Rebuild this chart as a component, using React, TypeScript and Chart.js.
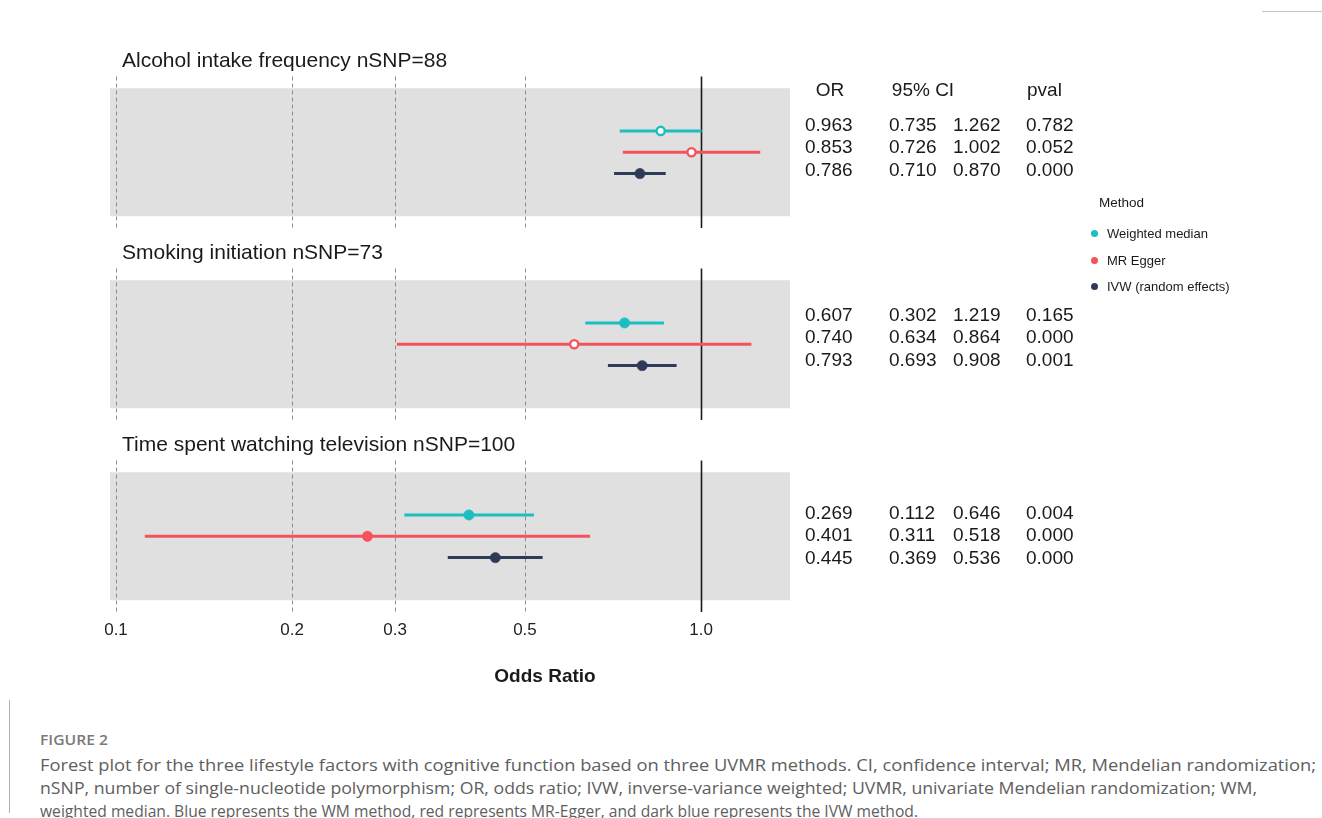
import React, { useEffect, useRef } from "react";
import { Chart, registerables } from "chart.js";

Chart.register(...registerables);

// ---------------- data ----------------
const panelTitles = [
  "Alcohol intake frequency nSNP=88",
  "Smoking initiation nSNP=73",
  "Time spent watching television nSNP=100",
];
const methods = ["Weighted median", "MR Egger", "IVW (random effects)"];
const methodColors = ["#1DBEC2", "#F5535B", "#2E3A58"];

const wmOR = [0.853, 0.74, 0.401];
const wmLo = [0.726, 0.634, 0.311];
const wmHi = [1.002, 0.864, 0.518];
const wmP = [0.052, 0.0, 0.0];

const eggerOR = [0.963, 0.607, 0.269];
const eggerLo = [0.735, 0.302, 0.112];
const eggerHi = [1.262, 1.219, 0.646];
const eggerP = [0.782, 0.165, 0.004];

const ivwOR = [0.786, 0.793, 0.445];
const ivwLo = [0.71, 0.693, 0.369];
const ivwHi = [0.87, 0.908, 0.536];
const ivwP = [0.0, 0.001, 0.0];

const xTicks = [0.1, 0.2, 0.3, 0.5, 1.0];
const refLine = 1.0;
const tableHeaders = ["OR", "95% CI", "pval"];
const axisTitle = "Odds Ratio";
const legendTitle = "Method";
const figureLabel = "FIGURE 2";
const captionLines = [
  "Forest plot for the three lifestyle factors with cognitive function based on three UVMR methods. CI, confidence interval; MR, Mendelian randomization;",
  "nSNP, number of single-nucleotide polymorphism; OR, odds ratio; IVW, inverse-variance weighted; UVMR, univariate Mendelian randomization; WM,",
  "weighted median. Blue represents the WM method, red represents MR-Egger, and dark blue represents the IVW method.",
];

// series in plot order (top row to bottom row within a panel)
const plotSeries = [
  { or: wmOR, lo: wmLo, hi: wmHi, p: wmP },
  { or: eggerOR, lo: eggerLo, hi: eggerHi, p: eggerP },
  { or: ivwOR, lo: ivwLo, hi: ivwHi, p: ivwP },
];
// table row order: Egger, WM, IVW
const tableOrder = [1, 0, 2];

// ---------------- layout ----------------
const W = 1322;
const H = 818;
const CANVAS_H = 700;
const STEP = 9; // y units between panels
const GRAY_TOP = -2;
const GRAY_BOTTOM = 4;
const PANEL_TOP = -2.55;
const PANEL_BOTTOM = 4.55;
const XMIN = 0.09767;
const XMAX = 1.4189;
const SIG = 0.05;

const FONT = '"Liberation Sans", Arial, Helvetica, sans-serif';
const CAP_FONT = '"Open Sans", "Noto Sans", sans-serif';

const panelsPlugin = {
  id: "panels",
  beforeDatasetsDraw(chart: any) {
    const { ctx, chartArea, scales } = chart;
    const x = scales.x;
    const y = scales.y;
    ctx.save();
    panelTitles.forEach((_, p) => {
      const gt = y.getPixelForValue(p * STEP + GRAY_TOP);
      const gb = y.getPixelForValue(p * STEP + GRAY_BOTTOM);
      ctx.fillStyle = "#E0E0E0";
      ctx.fillRect(chartArea.left, gt, chartArea.right - chartArea.left, gb - gt);
      const pt = y.getPixelForValue(p * STEP + PANEL_TOP);
      const pb = y.getPixelForValue(p * STEP + PANEL_BOTTOM);
      xTicks
        .filter((v) => v !== refLine)
        .forEach((v) => {
          const px = Math.round(x.getPixelForValue(v)) + 0.5;
          ctx.beginPath();
          ctx.setLineDash([4, 3]);
          ctx.strokeStyle = "#8E8E8E";
          ctx.lineWidth = 1;
          ctx.moveTo(px, pt);
          ctx.lineTo(px, pb);
          ctx.stroke();
        });
      const rx = Math.round(x.getPixelForValue(refLine)) + 0.5;
      ctx.beginPath();
      ctx.setLineDash([]);
      ctx.strokeStyle = "#1A1A1A";
      ctx.lineWidth = 1.6;
      ctx.moveTo(rx, pt);
      ctx.lineTo(rx, pb);
      ctx.stroke();
    });
    ctx.restore();
  },
};

function ForestChart() {
  const ref = useRef<HTMLCanvasElement | null>(null);
  useEffect(() => {
    if (!ref.current) return;
    const datasets: any[] = [];
    plotSeries.forEach((s, m) => {
      datasets.push({
        label: methods[m],
        data: panelTitles.map((_, p) => ({ x: s.or[p], y: p * STEP + m })),
        order: 0,
        showLine: false,
        pointStyle: "circle",
        pointRadius: s.p.map((pv) => (pv > SIG ? 4.1 : 5.2)),
        pointBorderWidth: s.p.map((pv) => (pv > SIG ? 2.4 : 0.5)),
        pointBackgroundColor: s.p.map((pv) => (pv > SIG ? "#FFFFFF" : methodColors[m])),
        pointBorderColor: methodColors[m],
      });
    });
    plotSeries.forEach((s, m) => {
      panelTitles.forEach((_, p) => {
        datasets.push({
          label: methods[m] + " CI " + p,
          data: [
            { x: s.lo[p], y: p * STEP + m },
            { x: s.hi[p], y: p * STEP + m },
          ],
          order: 1,
          showLine: true,
          borderColor: methodColors[m],
          borderWidth: 3,
          pointRadius: 0,
        });
      });
    });
    const chart = new Chart(ref.current, {
      type: "scatter",
      data: { datasets },
      plugins: [panelsPlugin],
      options: {
        animation: false,
        responsive: false,
        maintainAspectRatio: false,
        devicePixelRatio: 1,
        events: [],
        layout: { padding: { left: 110, right: W - 790, top: 76.5, bottom: 48 } },
        plugins: { legend: { display: false }, tooltip: { enabled: false } },
        scales: {
          x: {
            type: "logarithmic",
            min: XMIN,
            max: XMAX,
            bounds: "data",
            afterBuildTicks: (scale: any) => {
              scale.ticks = xTicks.map((v) => ({ value: v }));
            },
            afterFit: (scale: any) => {
              scale.height = 40;
            },
            grid: { display: false, drawTicks: false },
            border: { display: false },
            ticks: {
              autoSkip: false,
              maxRotation: 0,
              padding: 8,
              color: "#222222",
              font: { family: FONT, size: 17 },
              callback: (v: any) => Number(v).toFixed(1),
            },
          },
          y: {
            type: "linear",
            display: false,
            reverse: true,
            min: PANEL_TOP,
            max: (panelTitles.length - 1) * STEP + PANEL_BOTTOM,
          },
        },
      } as any,
    });
    return () => chart.destroy();
  }, []);
  return (
    <canvas
      ref={ref}
      width={W}
      height={CANVAS_H}
      style={{ position: "absolute", left: 0, top: 0, width: W, height: CANVAS_H }}
    />
  );
}

// text positioned by cap-centre (Liberation Sans metrics)
function Txt(props: {
  x: number;
  cy: number;
  size: number;
  children: any;
  weight?: number;
  color?: string;
  center?: boolean;
}) {
  const { x, cy, size, children, weight, color, center } = props;
  return (
    <div
      style={{
        position: "absolute",
        left: x,
        top: cy - 0.4885 * size,
        fontFamily: FONT,
        fontSize: size,
        lineHeight: 1,
        fontWeight: weight || 400,
        color: color || "#1A1A1A",
        whiteSpace: "nowrap",
        transform: center ? "translateX(-50%)" : undefined,
      }}
    >
      {children}
    </div>
  );
}

function measure(text: string, font: string) {
  const c = document.createElement("canvas").getContext("2d");
  if (!c) return 1;
  c.font = font;
  return c.measureText(text).width;
}

const titleBaselines = [67, 259, 451];
const tableRowFirst = [124, 314, 512];
const tableRowGap = 22.6;
const colX = { or: 805, lo: 889, hi: 953, p: 1026 };

// caption layout (left edge and right end of each line)
const capX = 40;
const capLineEnds = [1316, 1257, 918];
const capLineCy = [766, 789, 812];

export default function App() {
  const capSize = 16.5;
  const capFont = `${capSize}px ${CAP_FONT}`;
  const labelSize = 13.5;
  const labelFont = `600 ${labelSize}px ${CAP_FONT}`;
  const labelScale = 68 / Math.max(1, measure(figureLabel, labelFont));

  return (
    <div
      style={{
        position: "fixed",
        left: 0,
        top: 0,
        width: W,
        height: H,
        background: "#FFFFFF",
        overflow: "hidden",
      }}
    >
      {/* frame pieces visible outside the figure image */}
      <div style={{ position: "absolute", left: 1262, top: 11, right: 0, height: 1, background: "#C4C4C4" }} />
      <div style={{ position: "absolute", left: 9, top: 700, width: 1, height: 113, background: "#B0B0B0" }} />

      <ForestChart />

      {panelTitles.map((t, p) => (
        <Txt key={t} x={122} cy={titleBaselines[p] - 7.5} size={21}>
          {t}
        </Txt>
      ))}

      {/* table header */}
      <Txt x={830} cy={89} size={19} center>
        {tableHeaders[0]}
      </Txt>
      <Txt x={923} cy={89} size={19} center>
        {tableHeaders[1]}
      </Txt>
      <Txt x={1027} cy={89} size={19}>
        {tableHeaders[2]}
      </Txt>

      {panelTitles.map((_, p) =>
        tableOrder.map((m, r) => {
          const s = plotSeries[m];
          const cy = tableRowFirst[p] + r * tableRowGap;
          return (
            <React.Fragment key={p + "-" + r}>
              <Txt x={colX.or} cy={cy} size={19}>
                {s.or[p].toFixed(3)}
              </Txt>
              <Txt x={colX.lo} cy={cy} size={19}>
                {s.lo[p].toFixed(3)}
              </Txt>
              <Txt x={colX.hi} cy={cy} size={19}>
                {s.hi[p].toFixed(3)}
              </Txt>
              <Txt x={colX.p} cy={cy} size={19}>
                {s.p[p].toFixed(3)}
              </Txt>
            </React.Fragment>
          );
        })
      )}

      {/* legend */}
      <Txt x={1099} cy={203} size={13.5}>
        {legendTitle}
      </Txt>
      {methods.map((m, i) => (
        <React.Fragment key={m}>
          <div
            style={{
              position: "absolute",
              left: 1094 - 3.5,
              top: [233, 260, 286][i] - 3.5,
              width: 7,
              height: 7,
              borderRadius: "50%",
              background: methodColors[i],
            }}
          />
          <Txt x={1107} cy={[233, 260, 286][i]} size={13}>
            {m}
          </Txt>
        </React.Fragment>
      ))}

      {/* axis title */}
      <Txt x={545} cy={675} size={19} weight={700} center>
        {axisTitle}
      </Txt>

      {/* caption */}
      <div
        style={{
          position: "absolute",
          left: capX,
          top: 741 - 0.53 * labelSize,
          fontFamily: CAP_FONT,
          fontSize: labelSize,
          lineHeight: 1,
          fontWeight: 600,
          color: "#7A7A7A",
          whiteSpace: "nowrap",
          transform: `scaleX(${labelScale})`,
          transformOrigin: "left center",
        }}
      >
        {figureLabel}
      </div>
      {captionLines.map((line, i) => {
        const natural = measure(line, capFont);
        const sc = natural > 0 ? (capLineEnds[i] - capX) / natural : 1;
        return (
          <div
            key={i}
            style={{
              position: "absolute",
              left: capX,
              top: capLineCy[i] - 0.53 * capSize,
              fontFamily: CAP_FONT,
              fontSize: capSize,
              lineHeight: 1,
              color: "#5E5E5E",
              whiteSpace: "nowrap",
              transform: `scaleX(${sc})`,
              transformOrigin: "left center",
            }}
          >
            {line}
          </div>
        );
      })}
    </div>
  );
}
